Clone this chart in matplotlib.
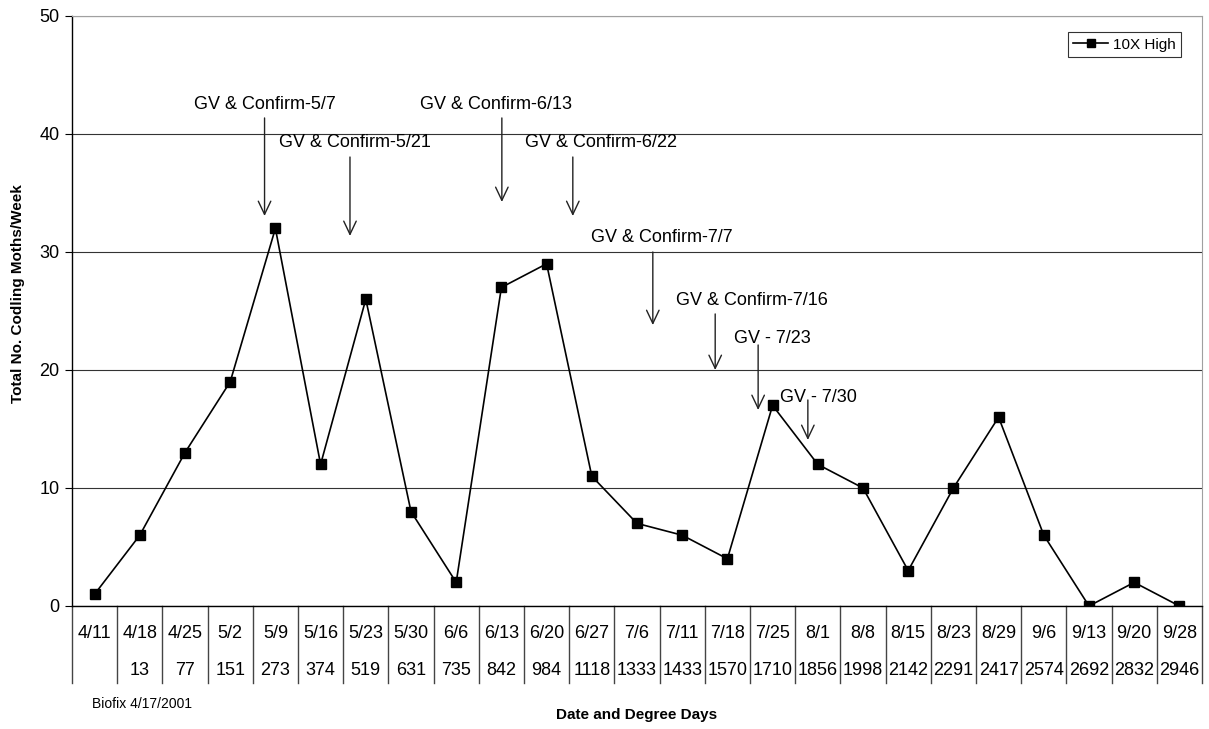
import matplotlib
matplotlib.use('Agg')
import matplotlib.pyplot as plt
import matplotlib.transforms as mtransforms

plt.rcParams['font.family'] = ['Liberation Sans', 'DejaVu Sans']

# weekly trap catches
dates = ['4/11', '4/18', '4/25', '5/2', '5/9', '5/16', '5/23', '5/30', '6/6',
         '6/13', '6/20', '6/27', '7/6', '7/11', '7/18', '7/25', '8/1', '8/8',
         '8/15', '8/23', '8/29', '9/6', '9/13', '9/20', '9/28']
degree_days = ['', '13', '77', '151', '273', '374', '519', '631', '735', '842',
               '984', '1118', '1333', '1433', '1570', '1710', '1856', '1998',
               '2142', '2291', '2417', '2574', '2692', '2832', '2946']
moths = [1, 6, 13, 19, 32, 12, 26, 8, 2, 27, 29, 11, 7, 6, 4, 17, 12, 10, 3,
         10, 16, 6, 0, 2, 0]

# spray notes: label, text anchor (x, y), arrow tail y, arrow x, arrow tip y
spray_labels = ['GV & Confirm-5/7', 'GV & Confirm-5/21', 'GV & Confirm-6/13',
                'GV & Confirm-6/22', 'GV & Confirm-7/7', 'GV & Confirm-7/16',
                'GV - 7/23', 'GV - 7/30']
label_xy = [(2.21, 42.46), (4.07, 39.24), (7.20, 42.46), (9.52, 39.24),
            (10.98, 31.19), (12.86, 25.85), (14.15, 22.63), (15.17, 17.71)]
arrow_x = [3.76, 5.65, 9.01, 10.58, 12.35, 13.73, 14.68, 15.78]
arrow_from = [41.36, 38.05, 41.36, 38.05, 30.0, 24.75, 22.12, 17.46]
arrow_to = [33.05, 31.36, 34.24, 33.05, 23.81, 20.0, 16.61, 14.07]

W, H = 1209, 729
fig = plt.figure(figsize=(W / 100, H / 100), dpi=100)
ax = fig.add_axes([72 / W, 123 / H, 1130 / W, 590 / H])

x = list(range(len(moths)))
ax.plot(x, moths, color='black', lw=1.2, marker='s', markersize=7,
        label='10X High')

ax.set_xlim(-0.5, len(moths) - 0.5)
ax.set_ylim(0, 50)
ax.set_yticks(range(0, 51, 10))
ax.tick_params(axis='y', direction='out', length=5, labelsize=13, pad=4)
ax.set_xticks([])
ax.yaxis.grid(True, color='#333333', lw=0.8)
ax.set_axisbelow(True)
for s in ['top', 'right']:
    ax.spines[s].set_color('#a0a0a0')
ax.spines['left'].set_lw(1)
ax.spines['bottom'].set_lw(1)

# category table below the axis
trans = mtransforms.blended_transform_factory(ax.transData, ax.transAxes)
for i in range(len(moths) + 1):
    ax.plot([i - 0.5, i - 0.5], [0, -0.1305], transform=trans, color='#444444',
            lw=1, clip_on=False)
for i in x:
    ax.text(i, -0.0458, dates[i], transform=trans, ha='center', va='center',
            fontsize=13)
    ax.text(i, -0.110, degree_days[i], transform=trans, ha='center',
            va='center', fontsize=13)

# spray annotations
for lab, (tx, ty), ax_x, y0, y1 in zip(spray_labels, label_xy, arrow_x,
                                       arrow_from, arrow_to):
    ax.text(tx, ty, lab, ha='left', va='center', fontsize=13)
    ax.annotate('', xy=(ax_x, y1), xytext=(ax_x, y0),
                arrowprops=dict(arrowstyle='->, head_length=0.95, head_width=0.45',
                                mutation_scale=10, color='#222222', lw=1,
                                shrinkA=0, shrinkB=0))

leg = ax.legend(loc='upper right', bbox_to_anchor=(0.9855, 0.98), fontsize=11,
                frameon=True, fancybox=False, handlelength=2.3,
                borderpad=0.35, handletextpad=0.3, markerscale=0.85,
                borderaxespad=0.3)
leg.get_frame().set_edgecolor('black')
leg.get_frame().set_linewidth(0.8)

fig.text(18 / W, 1 - 294 / H, 'Total No. Codling Moths/Week', rotation=90,
         ha='center', va='center', fontsize=11, fontweight='bold')
fig.text(637 / W, 1 - 715 / H, 'Date and Degree Days', ha='center',
         va='center', fontsize=11, fontweight='bold')
fig.text(92 / W, 1 - 704 / H, 'Biofix 4/17/2001', ha='left', va='center',
         fontsize=10)

fig.savefig('out.png', dpi=100)
